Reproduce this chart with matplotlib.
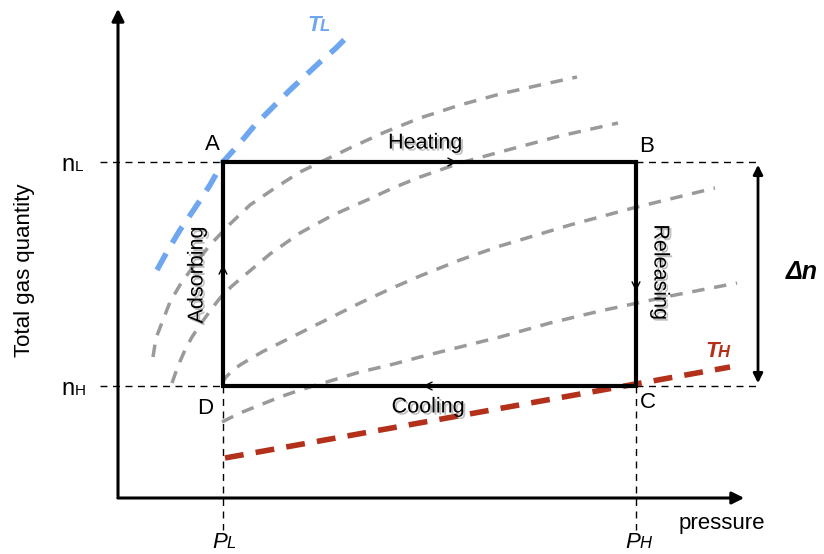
import matplotlib.pyplot as plt
import matplotlib.patheffects as pe

plt.rcParams['font.family'] = ['Liberation Sans', 'DejaVu Sans']

# diagram drawn in pixel coordinates of the 824x554 picture
p_low, p_high = 223, 636
n_low, n_high = 386, 162   # n_L is the upper level, n_H the lower

tl_x = [157, 168, 180, 195, 210, 223, 240, 255, 272, 290, 305, 320, 335, 347]
tl_y = [270, 250, 230, 208, 185, 162, 143, 125, 108, 90, 76, 62, 49, 37]
th_x = [225, 730]
th_y = [458, 367]

gray_curves = [
    ([153, 156, 163, 170, 180, 195, 210, 230, 250, 275, 300, 325, 350, 385, 420, 460, 500, 540, 577],
     [357, 338, 320, 302, 285, 264, 245, 224, 205, 188, 172, 160, 148, 132, 118, 105, 94, 85, 77]),
    ([172, 178, 185, 192, 200, 210, 220, 232, 245, 270, 300, 333, 367, 393, 420, 460, 500, 560, 618],
     [383, 366, 350, 337, 325, 311, 298, 286, 275, 254, 233, 215, 200, 188, 177, 163, 152, 136, 123]),
    ([222, 226, 232, 240, 250, 262, 280, 300, 330, 360, 390, 420, 460, 500, 570, 633, 715],
     [383, 377, 371, 365, 359, 352, 343, 333, 318, 303, 289, 276, 260, 246, 225, 208, 188]),
    ([222, 240, 260, 280, 300, 330, 360, 390, 420, 460, 500, 550, 600, 670, 737],
     [422, 413, 405, 397, 390, 381, 372, 365, 357, 347, 337, 323, 311, 296, 283]),
]

fig = plt.figure(figsize=(8.24, 5.54), dpi=100)
ax = fig.add_axes([0, 0, 1, 1])
ax.set_xlim(0, 824)
ax.set_ylim(554, 0)
ax.axis('off')

# gray isotherms
for gx, gy in gray_curves:
    ax.plot(gx, gy, color='#9a9a9a', lw=2.5, ls=(0, (3.6, 2.8)), zorder=2)

# T_L and T_H
ax.plot(tl_x, tl_y, color='#6ea6ef', lw=4, ls=(0, (3.4, 2.2)), zorder=3)
ax.plot(th_x, th_y, color='#b3301b', lw=4, ls=(0, (3.4, 2.2)), zorder=3)

# axes
ax.annotate('', xy=(118, 6), xytext=(118, 499),
            arrowprops=dict(arrowstyle='-|>', lw=2.2, color='black', mutation_scale=18))
ax.annotate('', xy=(747, 498), xytext=(115, 498),
            arrowprops=dict(arrowstyle='-|>', lw=2.2, color='black', mutation_scale=18))

# guide lines
dash = (0, (5, 4))
for y in (n_high, n_low):
    ax.plot([100, p_low], [y, y], color='black', lw=1, ls=dash, zorder=1)
    ax.plot([p_high, 760], [y, y], color='black', lw=1, ls=dash, zorder=1)
for x in (p_low, p_high):
    ax.plot([x, x], [n_low, 530], color='black', lw=1, ls=dash, zorder=1)

# cycle rectangle
ax.plot([p_low, p_high, p_high, p_low, p_low],
        [n_high, n_high, n_low, n_low, n_high], color='black', lw=3, zorder=4,
        solid_joinstyle='miter')

small = dict(arrowstyle='->', lw=1, color='black', mutation_scale=14)
ax.annotate('', xy=(460, n_high), xytext=(430, n_high), arrowprops=small, zorder=5)
ax.annotate('', xy=(p_low, 262), xytext=(p_low, 290), arrowprops=small, zorder=5)
ax.annotate('', xy=(p_high, 294), xytext=(p_high, 266), arrowprops=small, zorder=5)
ax.annotate('', xy=(420, n_low), xytext=(450, n_low), arrowprops=small, zorder=5)

# delta n arrow
ax.annotate('', xy=(758, n_high), xytext=(758, n_low),
            arrowprops=dict(arrowstyle='<|-|>', lw=2, color='black', mutation_scale=14))
ax.text(786, 272, 'Δn', fontsize=18, fontweight='bold', style='italic',
        ha='left', va='center')

shadow = [pe.withSimplePatchShadow(offset=(1.5, -1.5), shadow_rgbFace='gray', alpha=0.5)]
ax.text(425, 143, 'Heating', fontsize=15.5, ha='center', va='center', path_effects=shadow)
ax.text(428, 407, 'Cooling', fontsize=15.5, ha='center', va='center', path_effects=shadow)
ax.text(197, 275, 'Adsorbing', fontsize=15.5, ha='center', va='center', rotation=90,
        path_effects=shadow)
ax.text(660, 272, 'Releasing', fontsize=15.5, ha='center', va='center', rotation=-90,
        path_effects=shadow)

for label, x, y in [('A', 212, 145), ('B', 647, 146), ('C', 648, 402), ('D', 205, 408)]:
    ax.text(x, y, label, fontsize=16, ha='center', va='center')

ax.text(25, 270, 'Total gas quantity', fontsize=16, ha='center', va='center', rotation=90)
ax.text(722, 524, 'pressure', fontsize=16, ha='center', va='center')

# n_L / n_H
ax.text(75, 171, 'n', fontsize=17, ha='right', va='baseline')
ax.text(75, 171, 'L', fontsize=11, ha='left', va='baseline')
ax.text(75, 395, 'n', fontsize=17, ha='right', va='baseline')
ax.text(75, 395, 'H', fontsize=11, ha='left', va='baseline')

# P_L / P_H
ax.text(227, 548, 'P', fontsize=16, style='italic', ha='right', va='baseline')
ax.text(226, 548, 'L', fontsize=12, style='italic', ha='left', va='baseline')
ax.text(640, 548, 'P', fontsize=16, style='italic', ha='right', va='baseline')
ax.text(639, 548, 'H', fontsize=12, style='italic', ha='left', va='baseline')

# T_L / T_H
ax.text(321, 31, 'T', fontsize=16, style='italic', fontweight='bold',
        color='#6ea6ef', ha='right', va='baseline')
ax.text(320, 31, 'L', fontsize=12, style='italic', fontweight='bold',
        color='#6ea6ef', ha='left', va='baseline')
ax.text(719, 357, 'T', fontsize=16, style='italic', fontweight='bold',
        color='#b3301b', ha='right', va='baseline')
ax.text(718, 357, 'H', fontsize=12, style='italic', fontweight='bold',
        color='#b3301b', ha='left', va='baseline')

fig.savefig('out.png', dpi=100)
